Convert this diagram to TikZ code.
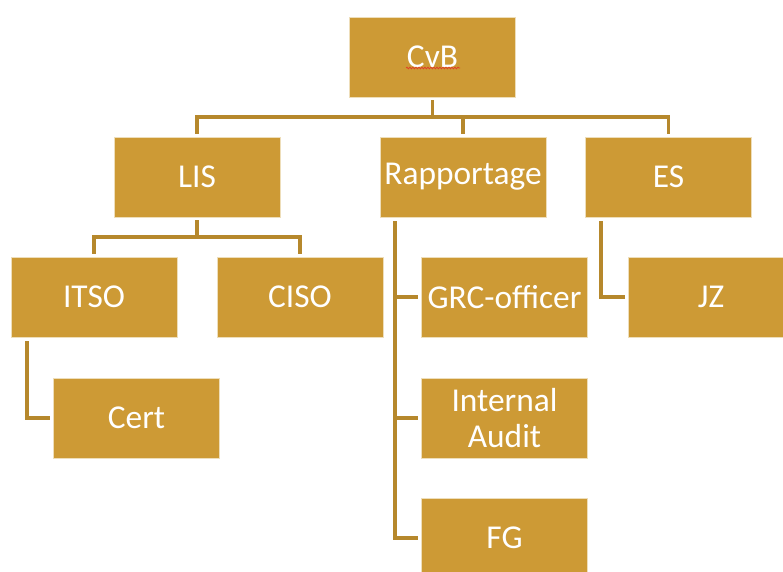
\documentclass[tikz,border=0pt]{standalone}
\usepackage{fontspec}
\setmainfont{Carlito}
\usetikzlibrary{decorations.pathmorphing}
\definecolor{boxfill}{RGB}{205,154,53}
\definecolor{boxedge}{RGB}{238,222,186}
\definecolor{linkcol}{RGB}{182,136,44}
\definecolor{squig}{RGB}{225,60,40}
\begin{document}
\begin{tikzpicture}[x=1bp,y=-1bp,
  orgbox/.style={rectangle, fill=boxfill, draw=boxedge, line width=0.8bp,
    minimum width=166bp, minimum height=80bp, inner sep=0pt,
    text=white, align=center,
    font=\fontsize{33.5}{37}\selectfont},
  link/.style={draw=linkcol, line width=3.2bp}]
\useasboundingbox (0,0) rectangle (783,572);
\begin{scope}
\clip (0,0) rectangle (783,572);
% connectors
\coordinate (bus1) at (0,117);
\coordinate (bus2) at (0,237);
\coordinate (itsoL) at (27,337);
\coordinate (rapL) at (395,217);
\coordinate (esL) at (601,217);

\node[orgbox] (CvB) at (432.5,57) {CvB};
\node[orgbox] (LIS) at (197,177) {LIS};
\node[orgbox] (Rap) at (463,177) {Rapportage};
\node[orgbox] (ES) at (668.5,177) {ES};
\node[orgbox] (ITSO) at (94,297) {ITSO};
\node[orgbox] (CISO) at (300,297) {CISO};
\node[orgbox] (Cert) at (136.5,418) {Cert};
\node[orgbox] (GRC) at (504.5,297) {GRC-officer};
\node[orgbox] (IA) at (504.5,418) {Internal\\Audit};
\node[orgbox] (FG) at (504.5,538) {FG};
\node[orgbox] (JZ) at (711,297) {JZ};

\draw[link, shorten >=3bp] (CvB.south |- bus1) -- (CvB.south);
\draw[link, shorten <=3bp, shorten >=3bp] (LIS.north) |- (ES.north |- bus1) -- (ES.north);
\draw[link, shorten >=3bp] (Rap.north |- bus1) -- (Rap.north);

\draw[link, shorten >=3bp] (LIS.south |- bus2) -- (LIS.south);
\draw[link, shorten <=3bp, shorten >=3bp] (ITSO.north) |- (CISO.north |- bus2) -- (CISO.north);

\draw[link, shorten <=4bp, shorten >=3bp] (itsoL) |- (Cert.west);

\draw[link, shorten <=4bp, shorten >=3bp] (rapL) |- (FG.west);
\draw[link, shorten >=3bp] (rapL |- GRC.west) -- (GRC.west);
\draw[link, shorten >=3bp] (rapL |- IA.west) -- (IA.west);

\draw[link, shorten <=4bp, shorten >=3bp] (esL) |- (JZ.west);

% spell-check squiggle under CvB
\coordinate (sqA) at (406,68);
\coordinate (sqB) at (460,68);
\draw[squig, line width=0.7bp, decorate,
  decoration={snake, segment length=3bp, amplitude=0.9bp}] (sqA) -- (sqB);
\end{scope}
\end{tikzpicture}
\end{document}
